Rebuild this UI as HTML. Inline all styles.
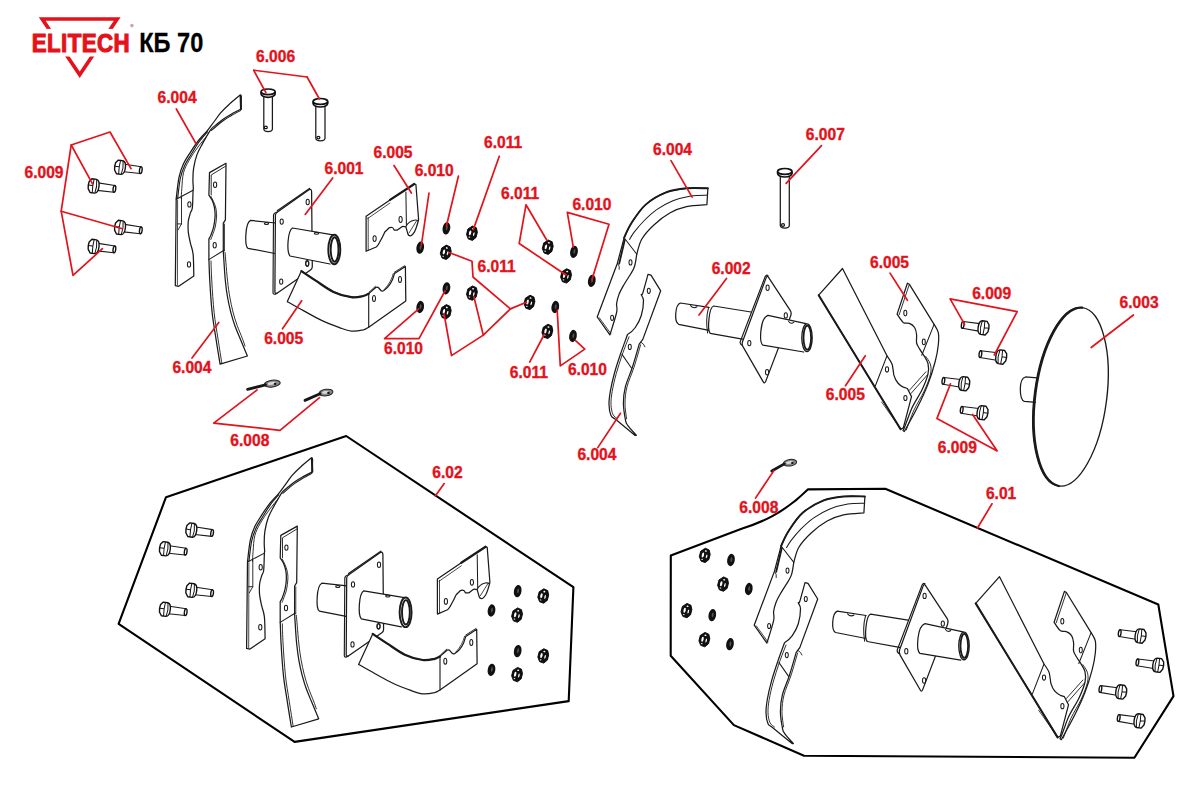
<!DOCTYPE html><html><head><meta charset="utf-8"><style>
html,body{margin:0;padding:0;background:#fff;}
svg{display:block;}
.lb{font-family:"Liberation Sans",sans-serif;font-weight:bold;font-size:15.6px;fill:#e3121b;stroke:#e3121b;stroke-width:0.35px;}
</style></head><body>
<svg width="1177" height="802" viewBox="0 0 1177 802">
<defs>
<g id="bolt">
 <path d="M4,-3.7 L20.8,-3.4 L20.8,3.4 L4,3.9" fill="#fff" stroke="#1a1a1a" stroke-width="1.1" stroke-linejoin="round"/>
 <ellipse cx="20.8" cy="0" rx="1.3" ry="3.4" fill="#fff" stroke="#111" stroke-width="1.4"/>
 <path d="M-2.8,-6.9 L1.8,-6.9 Q5.2,-6.4 5.2,0 Q5.2,6.4 1.8,6.9 L-2.8,6.9 L-5.2,3.4 L-5.6,-0.3 L-5.2,-3.8 Z" fill="#fff" stroke="#111" stroke-width="1.4" stroke-linejoin="round"/>
 <path d="M-0.6,-6.8 Q-1.4,0 -0.6,6.8 M-5.5,-0.3 L-1.1,-0.3 M2,-6.6 Q3.6,0 2,6.6" fill="none" stroke="#111" stroke-width="1"/>
</g>
<g id="nut">
 <path d="M-1.2,-7 L3,-6.2 L5,-2.2 L5,3.2 L2.2,7 L-2.2,6.6 L-5,2.6 L-5,-3 Z" fill="#111" stroke="#000" stroke-width="0.8" stroke-linejoin="round"/>
 <ellipse cx="-1.9" cy="0.2" rx="1.1" ry="2.5" fill="#fff"/>
 <ellipse cx="2" cy="0.6" rx="0.7" ry="2" fill="#fff"/>
 <ellipse cx="0" cy="-4.4" rx="1" ry="0.8" fill="#fff"/>
 <ellipse cx="-1.6" cy="4.6" rx="0.9" ry="0.6" fill="#ddd"/>
</g>
<g id="wash">
 <ellipse cx="0" cy="0" rx="3.8" ry="6.2" fill="#111" transform="rotate(10)"/>
 <ellipse cx="0.3" cy="-0.5" rx="0.9" ry="2.4" fill="#555" transform="rotate(10)"/>
</g>
</defs>
<rect width="1177" height="802" fill="#fff"/>

<path d="M38.8,17.2 L120.6,17.2 L79.7,78 Z M45.6,20.8 L113.8,20.8 L79.7,71.4 Z" fill="#e3121b" fill-rule="evenodd"/>
<rect x="28" y="28.9" width="104" height="27.6" fill="#fff"/>
<text x="31.7" y="52.4" transform="translate(31.7 0) scale(0.84 1) translate(-31.7 0)" style="font-family:'Liberation Sans',sans-serif;font-weight:bold;font-size:26.6px;fill:#e3121b;stroke:#e3121b;stroke-width:1.1px;letter-spacing:0.5px">ELITECH</text>
<circle cx="131.9" cy="25.6" r="1.8" fill="#d3a3aa"/>
<text x="139.2" y="52.2" transform="translate(139.2 0) scale(0.83 1) translate(-139.2 0)" style="font-family:'Liberation Sans',sans-serif;font-weight:bold;font-size:28.4px;fill:#000;stroke:#000;stroke-width:0.3px">КБ 70</text>
<polygon points="346.2,436.0 166.0,497.2 118.6,623.8 294.6,741.9 568.7,701.1 573.4,587.2" fill="none" stroke="#000" stroke-width="2.1" stroke-linejoin="round" stroke-linecap="round"/>
<path d="M670.8,555.6 L741.6,528.7 C760,523 783,514 807.8,489.4 L885.3,488.8 L1158.3,604.5 L1173.5,696.1 L1134.4,757.8 L804,755.7 L733.9,725.1 L670.7,655.8 Z" fill="none" stroke="#000" stroke-width="2.1" stroke-linejoin="round" stroke-linecap="round"/>
<path d="M1037,377.8 L1025.5,377 C1021.5,378 1020.3,382 1020.3,389 C1020.3,396 1021.5,400.5 1024.4,401.3 L1036,402.4" fill="#fff" stroke="#1a1a1a" stroke-width="1.25"/>
<ellipse cx="1070.5" cy="396.8" rx="36.2" ry="90.0" fill="none" stroke="#1a1a1a" stroke-width="1.36" transform="rotate(7.5 1070.5 396.8)"/>
<path d="M1082.2,307.6 A36.2,90.0 7.5 0 0 1058.8,486.0" fill="none" stroke="#1a1a1a" stroke-width="2.26" stroke-linejoin="round" stroke-linecap="round"/>
<g id="LG">
<g transform="translate(120.2 167.3) rotate(8)"><use href="#bolt"/></g>
<g transform="translate(93.8 186) rotate(8)"><use href="#bolt"/></g>
<g transform="translate(120.2 227.5) rotate(8)"><use href="#bolt"/></g>
<g transform="translate(93.8 246.5) rotate(8)"><use href="#bolt"/></g>
<path d="M240.2,95.0 C238.4,96.5 232.6,101.2 229.3,104.2 C226.0,107.2 223.2,109.9 220.6,112.9 C218.0,116.0 215.7,119.6 213.5,122.5 C211.3,125.4 210.0,127.5 207.5,130.5 C205.0,133.5 201.4,136.8 198.5,140.5 C195.6,144.2 192.7,148.7 190.2,152.6 C187.7,156.5 185.4,159.7 183.5,163.8 C181.6,167.9 180.2,171.5 179.0,177.3 C177.8,183.1 176.7,195.1 176.2,198.6 L175.3,285.6 L178.7,286.3 L193.8,276 C193.7,272.4 193.7,259.6 193.1,254.1 C192.5,248.6 191.2,246.8 190.4,243.1 C189.6,239.4 188.7,235.8 188.3,232.1 C188.0,228.4 188.0,224.4 188.3,221.2 C188.7,218.0 189.7,215.2 190.4,212.9 C191.1,210.6 192.0,211.2 192.4,207.4 C192.8,203.6 192.9,193.4 193.1,190.3 C193.3,187.2 193.3,189.1 193.4,188.8 C193.3,187.3 192.9,183.4 192.9,180.0 C192.9,176.6 192.9,172.5 193.6,168.3 C194.3,164.1 195.4,159.0 196.9,154.9 C198.4,150.8 200.8,146.8 202.5,143.6 C204.2,140.4 205.6,138.2 207.0,135.8 C208.4,133.4 209.6,131.0 211.2,129.1 C212.8,127.2 214.8,125.8 216.8,124.2 C218.8,122.6 220.7,120.9 223.1,119.2 C225.5,117.5 228.2,115.9 231.2,114.2 C234.1,112.5 239.2,110.0 240.8,109.2 L241.3,96.5 Z" fill="#fff" stroke="#1a1a1a" stroke-width="1.24" stroke-linejoin="round" stroke-linecap="round"/>
<path d="M207.5,131.8 C206.1,133.5 201.7,138.3 199.0,142.0 C196.3,145.7 193.8,150.2 191.4,154.0 C189.1,157.8 186.7,161.0 184.9,165.0 C183.1,169.0 181.6,172.4 180.4,178.0 C179.2,183.6 178.1,195.2 177.6,198.6" fill="none" stroke="#1a1a1a" stroke-width="1.13" stroke-linejoin="round" stroke-linecap="round"/>
<path d="M240.6,110.6 C239.1,111.4 234.3,113.8 231.5,115.5 C228.7,117.2 225.9,118.8 223.5,120.5 C221.1,122.2 219.2,123.8 217.2,125.5 C215.2,127.2 212.4,129.7 211.5,130.5" fill="none" stroke="#1a1a1a" stroke-width="1.02" stroke-linejoin="round" stroke-linecap="round"/>
<path d="M240.6,95.5 L241,109" fill="none" stroke="#1a1a1a" stroke-width="2.03" stroke-linejoin="round" stroke-linecap="round"/>
<path d="M207.0,135.8 C205.5,137.7 201.0,142.9 198.0,147.0 C195.0,151.1 191.4,156.2 189.0,160.5 C186.6,164.8 184.7,168.1 183.5,172.8 C182.3,177.5 182.2,184.2 181.8,188.5 C181.4,192.8 181.3,196.9 181.2,198.6" fill="none" stroke="#1a1a1a" stroke-width="0.9" stroke-linejoin="round" stroke-linecap="round"/>
<path d="M176.2,199.2 L193.1,190.3" fill="none" stroke="#1a1a1a" stroke-width="1.02" stroke-linejoin="round" stroke-linecap="round"/>
<path d="M177.6,200 L177.4,285" fill="none" stroke="#1a1a1a" stroke-width="0.79" stroke-linejoin="round" stroke-linecap="round"/>
<path d="M181.5,197 L181.5,224 M177.3,223.9 L181.5,223.9 L178,230" fill="none" stroke="#1a1a1a" stroke-width="0.9" stroke-linejoin="round" stroke-linecap="round"/>
<ellipse cx="189.4" cy="204.4" rx="1.6" ry="2.7" fill="none" stroke="#1a1a1a" stroke-width="1.02"/>
<ellipse cx="189" cy="264.4" rx="1.6" ry="2.7" fill="none" stroke="#1a1a1a" stroke-width="1.02"/>
<path d="M209.5,172.6 L226,163.3 L225.4,219.8 L223.3,223.2 L223.3,251.3 C223.4,253.1 223.7,257.3 224.0,262.3 C224.3,267.3 224.8,275.4 225.4,281.2 C226.0,287.0 226.6,291.8 227.5,297.0 C228.4,302.2 229.6,307.5 230.8,312.3 C232.1,317.1 233.4,321.6 235.0,326.0 C236.6,330.4 238.1,333.8 240.2,338.8 C242.3,343.8 246.2,353.1 247.4,356.0 L220.1,364.2 C219.4,360.0 217.3,347.4 216.0,338.8 C214.7,330.2 213.1,321.9 212.1,312.3 C211.1,302.7 210.3,290.0 209.8,281.2 C209.3,272.4 209.1,263.2 208.9,259.6 L208.9,239 C209.2,238.3 210.2,237.0 211.0,234.9 C211.8,232.8 213.0,229.8 213.7,226.6 C214.4,223.4 215.0,218.9 215.1,215.7 C215.2,212.5 214.9,209.9 214.4,207.4 C213.9,204.9 213.2,202.7 212.3,200.6 C211.4,198.5 209.5,196.0 208.9,195.1 Z" fill="#fff" stroke="#1a1a1a" stroke-width="1.24" stroke-linejoin="round" stroke-linecap="round"/>
<path d="M211.0,196.5 C211.4,197.3 212.7,199.6 213.5,201.5 C214.3,203.4 215.3,205.6 215.8,208.0 C216.3,210.4 216.7,212.8 216.6,216.0 C216.5,219.2 215.9,223.8 215.2,227.0 C214.5,230.2 213.2,232.9 212.5,235.0 C211.8,237.1 211.1,238.8 210.8,239.5" fill="none" stroke="#1a1a1a" stroke-width="0.9" stroke-linejoin="round" stroke-linecap="round"/>
<path d="M211.0,261.0 C211.1,264.4 211.3,272.6 211.8,281.2 C212.3,289.8 213.1,302.7 214.1,312.3 C215.1,321.9 216.7,330.3 218.0,338.8 C219.3,347.3 221.2,359.2 221.8,363.3" fill="none" stroke="#1a1a1a" stroke-width="0.9" stroke-linejoin="round" stroke-linecap="round"/>
<path d="M225.0,252.5 C225.2,254.1 225.5,257.5 225.9,262.3 C226.3,267.1 226.9,275.4 227.6,281.2 C228.2,287.0 228.9,291.9 229.8,297.0 C230.7,302.1 231.8,307.2 233.0,312.0 C234.2,316.8 235.6,321.1 237.2,325.5 C238.8,329.9 241.0,334.9 242.3,338.3 C243.6,341.7 244.6,344.7 245.0,346.0" fill="none" stroke="#1a1a1a" stroke-width="0.9" stroke-linejoin="round" stroke-linecap="round"/>
<path d="M224.5,224 L224.5,251" fill="none" stroke="#1a1a1a" stroke-width="0.79" stroke-linejoin="round" stroke-linecap="round"/>
<path d="M208.9,259.6 L224,250.2" fill="none" stroke="#1a1a1a" stroke-width="1.02" stroke-linejoin="round" stroke-linecap="round"/>
<path d="M211.2,195 L211.2,175 L225.6,166.2" fill="none" stroke="#1a1a1a" stroke-width="0.9" stroke-linejoin="round" stroke-linecap="round"/>
<ellipse cx="215.1" cy="184.8" rx="1.6" ry="2.7" fill="none" stroke="#1a1a1a" stroke-width="1.02"/>
<ellipse cx="214.7" cy="245.2" rx="1.6" ry="2.7" fill="none" stroke="#1a1a1a" stroke-width="1.02"/>
<path d="M275.7,223 L250.5,220.4 C245,223 244.5,246 248,248.3 L274.9,253.5" fill="#fff" stroke="#1a1a1a" stroke-width="1.24" stroke-linejoin="round" stroke-linecap="round"/>
<ellipse cx="266.5" cy="223.6" rx="2.2" ry="1" fill="none" stroke="#1a1a1a" stroke-width="1.02"/>
<path d="M277.5,212 Q275.7,212.9 275.4,215 L274.9,292 Q275,294 277,293.2 L310.5,270 Q312.3,268.8 312.3,266.5 L311.6,191.5 Q311.3,188.5 309,189.8 Z" fill="#fff" stroke="#1a1a1a" stroke-width="1.24" stroke-linejoin="round" stroke-linecap="round"/>
<path d="M277.2,210.7 L309.5,188.4" fill="none" stroke="#1a1a1a" stroke-width="1.24" stroke-linejoin="round" stroke-linecap="round"/>
<path d="M277.5,212 Q274,212.5 273.5,215 L273,293 Q273.5,295.5 277,293.2" fill="none" stroke="#1a1a1a" stroke-width="1.13" stroke-linejoin="round" stroke-linecap="round"/>
<ellipse cx="281.7" cy="221.6" rx="1.6" ry="2.7" fill="none" stroke="#1a1a1a" stroke-width="1.02"/>
<ellipse cx="307.7" cy="202" rx="1.6" ry="2.7" fill="none" stroke="#1a1a1a" stroke-width="1.02"/>
<ellipse cx="307.2" cy="263.3" rx="1.6" ry="2.7" fill="none" stroke="#1a1a1a" stroke-width="1.02"/>
<ellipse cx="281.2" cy="281.6" rx="1.6" ry="2.7" fill="none" stroke="#1a1a1a" stroke-width="1.02"/>
<path d="M333,234.8 L292.5,228 C287.5,231 286.5,252 290,256 L330,264" fill="#fff" stroke="#1a1a1a" stroke-width="1.24" stroke-linejoin="round" stroke-linecap="round"/>
<ellipse cx="334.3" cy="249.5" rx="6" ry="14.8" fill="#fff" stroke="#1a1a1a" stroke-width="1.92"/>
<ellipse cx="334.6" cy="249.5" rx="3.9" ry="12.2" fill="none" stroke="#1a1a1a" stroke-width="1.92"/>
<ellipse cx="316.5" cy="233.3" rx="2.2" ry="1" fill="none" stroke="#1a1a1a" stroke-width="1.02"/>
<ellipse cx="307.3" cy="263.8" rx="1.5" ry="2.6" fill="none" stroke="#1a1a1a" stroke-width="1.02"/>
<path d="M366.1,216.3 L390,199.9 L414.3,184 L415.9,184.5 L418.6,219.5 C417,226 415.5,230 414.3,232.2 C412.5,235 411,236 410.1,235.9 C409,235.8 408.3,235 408,234.3 L405.9,226.9 C403,226 402.5,226.2 401.6,226.9 L397.4,230.1 L394.2,230.1 C393.5,228.5 393,227.6 392.1,227.5 C390.5,227.3 389.5,227.5 388.9,228 C386.5,230.5 385.5,231 384.7,232.2 C383,236 381.5,239 380.4,240.7 C379,243.5 377.5,246 376.2,247 L366.1,251.3 Z" fill="#fff" stroke="#1a1a1a" stroke-width="1.24" stroke-linejoin="round" stroke-linecap="round"/>
<path d="M390,199.9 L414.3,184" fill="none" stroke="#1a1a1a" stroke-width="2.26" stroke-linejoin="round" stroke-linecap="round"/>
<path d="M367.6,218.6 L390,203" fill="none" stroke="#1a1a1a" stroke-width="0.79" stroke-linejoin="round" stroke-linecap="round"/>
<path d="M368.2,217.5 L368.2,250.3" fill="none" stroke="#1a1a1a" stroke-width="0.79" stroke-linejoin="round" stroke-linecap="round"/>
<path d="M405.9,192 L406.4,225" fill="none" stroke="#1a1a1a" stroke-width="1.02" stroke-linejoin="round" stroke-linecap="round"/>
<path d="M405.9,226.5 C408,222.5 411,220.8 414,220.2 C416,219.9 417.5,220.2 418.3,221" fill="none" stroke="#1a1a1a" stroke-width="1.02" stroke-linejoin="round" stroke-linecap="round"/>
<path d="M409,233 C411.5,229 414,225 416.5,221" fill="none" stroke="#1a1a1a" stroke-width="0.79" stroke-linejoin="round" stroke-linecap="round"/>
<ellipse cx="374.6" cy="238.6" rx="1.6" ry="2.9" fill="none" stroke="#1a1a1a" stroke-width="1.02"/>
<ellipse cx="400.6" cy="219.5" rx="1.6" ry="2.9" fill="none" stroke="#1a1a1a" stroke-width="1.02"/>
<path d="M301.4,271.1 C303.8,272.7 310.3,277.1 315.7,280.6 C321.1,284.1 327.6,289.1 333.5,291.9 C339.4,294.7 346.4,296.5 351.4,297.2 C356.4,297.9 360.4,296.6 363.3,296.0 C366.2,295.4 367.8,294.0 368.7,293.6 L375.7,287.5 Q377.5,286.5 378.8,288 L380.9,290.5 Q382,291.5 383.5,290.8 C387,288.5 390.5,284 392.3,280.1 C393.2,278 393.8,275.5 394.5,273.6 L405.4,266.5 L405.8,301 L368.7,327.2 C367.8,327.6 366.2,329.2 363.3,329.9 C360.4,330.5 355.4,331.5 351.4,331.1 C347.4,330.7 344.5,329.4 339.5,327.6 C334.5,325.8 327.6,323.2 321.6,320.4 C315.7,317.6 309.5,314.0 303.8,310.9 C298.1,307.8 290.1,303.2 287.3,301.6 Z" fill="#fff" stroke="#1a1a1a" stroke-width="1.24" stroke-linejoin="round" stroke-linecap="round"/>
<path d="M368.7,293.6 L368.7,327.2" fill="none" stroke="#1a1a1a" stroke-width="1.13" stroke-linejoin="round" stroke-linecap="round"/>
<path d="M301.4,271.1 C303.8,272.7 310.3,277.1 315.7,280.6 C321.1,284.1 327.6,289.1 333.5,291.9 C339.4,294.7 346.4,296.5 351.4,297.2 C356.4,297.9 360.4,296.6 363.3,296.0 C366.2,295.4 367.8,294.0 368.7,293.6" fill="none" stroke="#1a1a1a" stroke-width="2.26" stroke-linejoin="round" stroke-linecap="round"/>
<path d="M369.3,292 L375.5,286.3 M394.3,272.3 L404.6,265.7" fill="none" stroke="#1a1a1a" stroke-width="0.9" stroke-linejoin="round" stroke-linecap="round"/>
<path d="M393.3,273.5 C392,279 389,284.5 384.4,289.4" fill="none" stroke="#1a1a1a" stroke-width="0.79" stroke-linejoin="round" stroke-linecap="round"/>
<ellipse cx="374" cy="298.4" rx="1.5" ry="3" fill="none" stroke="#1a1a1a" stroke-width="1.02"/>
<ellipse cx="400" cy="279.6" rx="1.5" ry="3" fill="none" stroke="#1a1a1a" stroke-width="1.02"/>
<use href="#wash" x="446.4" y="228.4"/>
<use href="#wash" x="420.2" y="247.7"/>
<use href="#wash" x="446.4" y="288.3"/>
<use href="#wash" x="420.2" y="307"/>
<use href="#nut" transform="translate(472 233.1) rotate(14)"/>
<use href="#nut" transform="translate(445.8 252.2) rotate(14)"/>
<use href="#nut" transform="translate(472 293) rotate(14)"/>
<use href="#nut" transform="translate(445.8 311.7) rotate(14)"/>
</g>
<g id="RG">
<use href="#wash" x="574" y="251.8"/>
<use href="#wash" x="591.8" y="280.8"/>
<use href="#wash" x="555.3" y="307"/>
<use href="#wash" x="573" y="336"/>
<use href="#nut" transform="translate(547.8 247.1) rotate(14)"/>
<use href="#nut" transform="translate(566.1 275.8) rotate(14)"/>
<use href="#nut" transform="translate(529.5 302.3) rotate(14)"/>
<use href="#nut" transform="translate(547.4 331.3) rotate(14)"/>
<g transform="translate(-157 -308.2)">
<path d="M864.9,496.5 C861.3,496.5 850.5,495.8 843.5,496.5 C836.5,497.2 829.9,497.9 823.1,500.6 C816.3,503.3 808.5,507.7 802.7,512.8 C796.9,517.9 792.1,525.7 788.5,531.2 C784.9,536.7 782.3,543.5 781.1,546.0 L774.4,571.4 L754.2,625.2 L766.9,643.1 C768.0,639.4 772.5,625.9 773.6,620.7 C774.7,615.5 773.2,614.7 773.6,611.7 C774.0,608.7 774.8,605.8 775.9,602.8 C777.0,599.8 778.4,597.3 780.4,593.8 C782.4,590.3 785.9,585.1 787.8,581.9 C789.7,578.7 790.6,577.6 791.6,574.4 C792.6,571.1 793.4,564.4 793.8,562.4 C794.6,559.9 795.9,552.4 798.7,547.5 C801.6,542.6 806.1,537.6 810.9,533.2 C815.6,528.8 821.8,524.0 827.2,521.0 C832.6,518.0 837.4,516.3 843.5,514.9 C849.6,513.5 860.5,513.1 863.9,512.8 Z" fill="#fff" stroke="#1a1a1a" stroke-width="1.24" stroke-linejoin="round" stroke-linecap="round"/>
<path d="M864.6,503.3 C861.8,503.4 853.6,503.2 847.8,504.1 C842.0,505.1 835.6,506.7 829.9,509.0 C824.2,511.3 818.6,514.5 813.7,517.9 C808.9,521.3 804.6,525.4 800.8,529.2 C797.0,533.0 793.4,537.5 791.0,540.6 C788.6,543.7 787.3,546.4 786.6,547.6" fill="none" stroke="#1a1a1a" stroke-width="1.02" stroke-linejoin="round" stroke-linecap="round"/>
<path d="M864.9,496.5 C861.3,496.5 850.5,495.8 843.5,496.5 C836.5,497.2 829.9,497.9 823.1,500.6 C816.3,503.3 808.5,507.7 802.7,512.8 C796.9,517.9 792.1,525.7 788.5,531.2 C784.9,536.7 782.3,543.5 781.1,546.0" fill="none" stroke="#1a1a1a" stroke-width="1.92" stroke-linejoin="round" stroke-linecap="round"/>
<path d="M781.8,548 L776.2,571.8" fill="none" stroke="#1a1a1a" stroke-width="1.81" stroke-linejoin="round" stroke-linecap="round"/>
<path d="M781.1,546 L793.8,562.4" fill="none" stroke="#1a1a1a" stroke-width="1.02" stroke-linejoin="round" stroke-linecap="round"/>
<path d="M756.2,625.8 L768,642" fill="none" stroke="#1a1a1a" stroke-width="0.79" stroke-linejoin="round" stroke-linecap="round"/>
<path d="M774.6,571.4 Q777,574.5 776.3,577.5" fill="none" stroke="#1a1a1a" stroke-width="0.9" stroke-linejoin="round" stroke-linecap="round"/>
<ellipse cx="787.5" cy="570.6" rx="1.5" ry="2.6" fill="none" stroke="#1a1a1a" stroke-width="1.02"/>
<ellipse cx="769.1" cy="626" rx="1.5" ry="2.6" fill="none" stroke="#1a1a1a" stroke-width="1.02"/>
<path d="M805,582.6 L808,583.3 L817.7,599 L799.8,647.6 L796.2,652.4 C795.1,656.3 791.6,668.6 789.3,675.7 C787.0,682.8 783.9,689.0 782.4,694.9 C780.9,700.8 780.4,705.9 780.4,711.4 C780.4,716.9 781.7,724.1 782.4,727.8 C783.1,731.4 782.7,730.7 784.5,733.3 C786.3,735.9 791.9,741.9 793.4,743.6 L792.1,743.6 C788.9,741.0 776.8,731.1 772.8,727.8 C768.8,724.5 769.1,726.2 768.0,723.7 C766.9,721.2 766.1,716.8 766.0,712.7 C765.9,708.6 766.5,704.2 767.4,699.0 C768.3,693.8 769.8,687.4 771.5,681.2 C773.2,675.0 775.4,668.4 777.6,662.0 C779.8,655.6 783.4,645.9 784.5,642.7 C786.0,641.9 790.0,638.9 792.3,635.7 C794.5,632.5 796.9,628.2 798.3,623.7 C799.7,619.2 800.5,612.3 800.5,608.8 C800.5,605.3 798.4,604.0 798.3,602.8 C798.2,601.5 798.7,604.7 799.8,601.3 C800.9,597.9 804.1,585.7 805.0,582.6 Z" fill="#fff" stroke="#1a1a1a" stroke-width="1.24" stroke-linejoin="round" stroke-linecap="round"/>
<path d="M786.0,645.0 C784.9,648.0 781.3,656.8 779.2,663.0 C777.1,669.2 774.9,675.9 773.2,682.0 C771.5,688.1 770.1,694.4 769.2,699.5 C768.3,704.6 767.9,708.8 768.0,712.7 C768.1,716.6 768.9,720.3 770.0,722.7 C771.1,725.1 773.8,726.3 774.5,727.0" fill="none" stroke="#1a1a1a" stroke-width="0.9" stroke-linejoin="round" stroke-linecap="round"/>
<path d="M797.6,653.0 C796.5,656.8 793.1,669.0 790.8,676.0 C788.5,683.0 785.5,689.1 784.0,695.0 C782.5,700.9 782.1,706.1 782.0,711.4 C781.9,716.7 783.3,724.4 783.6,727.0" fill="none" stroke="#1a1a1a" stroke-width="0.9" stroke-linejoin="round" stroke-linecap="round"/>
<path d="M779,662.6 L788.6,676.4" fill="none" stroke="#1a1a1a" stroke-width="1.02" stroke-linejoin="round" stroke-linecap="round"/>
<path d="M798.3,650.6 Q801,652 802,655" fill="none" stroke="#1a1a1a" stroke-width="0.9" stroke-linejoin="round" stroke-linecap="round"/>
<ellipse cx="805.8" cy="599" rx="1.5" ry="2.6" fill="none" stroke="#1a1a1a" stroke-width="1.02"/>
<ellipse cx="786.8" cy="655.1" rx="1.5" ry="2.6" fill="none" stroke="#1a1a1a" stroke-width="1.02"/>
</g>
<path d="M709.1,307.3 L680.3,303 C675,305 674,322 678.6,324.3 L709.1,330.3" fill="#fff" stroke="#1a1a1a" stroke-width="1.24" stroke-linejoin="round" stroke-linecap="round"/>
<path d="M690.5,305.6 Q693.5,309 697,306.8" fill="none" stroke="#1a1a1a" stroke-width="1.02" stroke-linejoin="round" stroke-linecap="round"/>
<path d="M751,312 L713.6,306 C709,307 707,330 710.2,333.3 L742.5,339.2" fill="#fff" stroke="#1a1a1a" stroke-width="1.24" stroke-linejoin="round" stroke-linecap="round"/>
<path d="M708.5,307.8 C706.5,315 706.5,326 707.6,333" fill="none" stroke="#1a1a1a" stroke-width="1.02" stroke-linejoin="round" stroke-linecap="round"/>
<path d="M766.1,277.9 Q767.1,275.1 768.7,277.6 L790.2,310.4 Q791.8,312.9 790.7,315.7 L765.7,381.4 Q764.6,384.2 763.1,381.6 L743.1,346.9 Q741.6,344.3 742.6,341.5 Z" fill="#fff" stroke="#1a1a1a" stroke-width="1.24" stroke-linejoin="round" stroke-linecap="round"/>
<path d="M768,275.5 Q766.3,274.6 765.2,276.5 L740.3,341.5 Q739.6,343.8 741.8,345.2" fill="none" stroke="#1a1a1a" stroke-width="1.13" stroke-linejoin="round" stroke-linecap="round"/>
<ellipse cx="767.6" cy="287.7" rx="1.6" ry="2.7" fill="none" stroke="#1a1a1a" stroke-width="1.02"/>
<ellipse cx="749.3" cy="343.1" rx="1.6" ry="2.7" fill="none" stroke="#1a1a1a" stroke-width="1.02"/>
<ellipse cx="767.1" cy="372.3" rx="1.6" ry="2.7" fill="none" stroke="#1a1a1a" stroke-width="1.02"/>
<ellipse cx="785.8" cy="315.4" rx="1.6" ry="2.7" fill="none" stroke="#1a1a1a" stroke-width="1.02"/>
<path d="M806,323.6 L768,315.4 C760,318 759,342 762.9,345.2 L803.7,352" fill="#fff" stroke="#1a1a1a" stroke-width="1.24" stroke-linejoin="round" stroke-linecap="round"/>
<ellipse cx="807" cy="337.7" rx="5.2" ry="13.8" fill="#fff" stroke="#1a1a1a" stroke-width="1.36"/>
<ellipse cx="807.3" cy="337.7" rx="3.8" ry="12" fill="none" stroke="#1a1a1a" stroke-width="1.81"/>
<path d="M788.5,321.3 Q791,324.5 793.8,322.3" fill="none" stroke="#1a1a1a" stroke-width="1.02" stroke-linejoin="round" stroke-linecap="round"/>
<path d="M842.5,268.5 L887,355.8 C890,360 892,363 892.4,365.3 C893,369 893.5,372 893.8,374.9 C895,379 896,381 897.9,383 C900,385.5 902,386.5 903.3,387.1 L907.4,388.5 L911.5,396.6 L903.3,427.9 L900.6,429.2 L818.7,295.2 Z" fill="#fff" stroke="#1a1a1a" stroke-width="1.24" stroke-linejoin="round" stroke-linecap="round"/>
<path d="M818.7,295.2 L900.6,429.2" fill="none" stroke="#1a1a1a" stroke-width="2.03" stroke-linejoin="round" stroke-linecap="round"/>
<path d="M887,355.8 L875.4,385.7" fill="none" stroke="#1a1a1a" stroke-width="1.02" stroke-linejoin="round" stroke-linecap="round"/>
<path d="M881.6,402 L900,428" fill="none" stroke="#1a1a1a" stroke-width="0.79" stroke-linejoin="round" stroke-linecap="round"/>
<ellipse cx="887" cy="369.4" rx="1.6" ry="2.6" fill="none" stroke="#1a1a1a" stroke-width="1.02"/>
<ellipse cx="905.4" cy="398" rx="1.6" ry="2.6" fill="none" stroke="#1a1a1a" stroke-width="1.02"/>
<path d="M907.4,283.2 L909.4,284.3 L934.1,324.4 C934.8,325.8 937.6,329.3 938.3,332.7 C939.0,336.1 938.8,340.2 938.3,345.0 C937.8,349.8 936.9,355.0 935.2,361.5 C933.5,368.0 930.9,376.6 928.0,384.1 C925.1,391.7 921.7,398.9 917.7,406.8 C913.8,414.7 906.5,427.4 904.3,431.5 L903,430.5 C905.5,426.1 908.6,415.4 911.5,408.9 C914.4,402.4 919.0,396.1 921.8,390.3 C924.5,384.5 927.0,378.3 928.0,373.8 C929.0,369.3 928.7,366.6 928.0,363.5 C927.3,360.4 924.5,356.7 923.8,355.3 C923.1,354.3 920.9,351.2 919.7,349.1 C918.5,347.1 917.1,345.4 916.6,343.0 C916.1,340.6 916.9,337.3 916.6,334.7 C916.3,332.1 915.8,329.4 914.6,327.5 C913.4,325.6 911.3,324.2 909.4,323.4 C907.5,322.5 905.2,323.9 903.2,322.4 C901.2,320.8 898.1,315.5 897.1,314.1 Z" fill="#fff" stroke="#1a1a1a" stroke-width="1.24" stroke-linejoin="round" stroke-linecap="round"/>
<path d="M925.8,356.5 C926.5,357.8 929.5,361.1 930.3,364.0 C931.1,366.9 931.5,369.5 930.5,374.0 C929.5,378.5 927.0,385.0 924.2,391.0 C921.5,397.0 917.0,403.5 914.0,410.0 C911.0,416.5 907.6,426.7 906.3,430.0" fill="none" stroke="#1a1a1a" stroke-width="0.9" stroke-linejoin="round" stroke-linecap="round"/>
<path d="M909.2,284.8 L899.2,314.6" fill="none" stroke="#1a1a1a" stroke-width="0.9" stroke-linejoin="round" stroke-linecap="round"/>
<path d="M934.1,324.4 L921.8,355.3" fill="none" stroke="#1a1a1a" stroke-width="1.02" stroke-linejoin="round" stroke-linecap="round"/>
<path d="M909.4,390.3 L925.9,371.8 M911,393.5 L927.3,375" fill="none" stroke="#1a1a1a" stroke-width="0.9" stroke-linejoin="round" stroke-linecap="round"/>
<ellipse cx="905.3" cy="313.1" rx="1.5" ry="2.8" fill="none" stroke="#1a1a1a" stroke-width="1.02"/>
<ellipse cx="923.8" cy="341.9" rx="1.5" ry="2.8" fill="none" stroke="#1a1a1a" stroke-width="1.02"/>
<g transform="translate(983.3 327.8) scale(-1 1) rotate(-8)"><use href="#bolt"/></g>
<g transform="translate(1001 357) scale(-1 1) rotate(-8)"><use href="#bolt"/></g>
<g transform="translate(964 383.7) scale(-1 1) rotate(-8)"><use href="#bolt"/></g>
<g transform="translate(982.3 412.7) scale(-1 1) rotate(-8)"><use href="#bolt"/></g>
</g>
<use href="#LG" transform="translate(71.3 362.8)"/>
<use href="#RG" transform="translate(157 308.2)"/>
<path d="M263.8,93.6 L263.8,129 Q263.8,131.5 268.1,131.5 Q272.40000000000003,131.5 272.40000000000003,129 L272.40000000000003,93.6" fill="#fff" stroke="#1a1a1a" stroke-width="1.25"/>
<ellipse cx="265.8" cy="127.4" rx="1.5" ry="1.3" fill="#fff" stroke="#111" stroke-width="1.2"/>
<path d="M261.1,91.8 L261.1,94.0 A7,3.3 0 0 0 275.1,94.0 L275.1,91.8" fill="#fff" stroke="#111" stroke-width="1.7"/>
<ellipse cx="268.1" cy="91.8" rx="7" ry="2.80" fill="#fff" stroke="#111" stroke-width="1.7"/>
<path d="M315.79999999999995,103.2 L315.79999999999995,138.3 Q315.79999999999995,140.8 320.4,140.8 Q325.0,140.8 325.0,138.3 L325.0,103.2" fill="#fff" stroke="#1a1a1a" stroke-width="1.25"/>
<ellipse cx="318.4" cy="137.6" rx="1.5" ry="1.3" fill="#fff" stroke="#111" stroke-width="1.2"/>
<path d="M313.09999999999997,101.4 L313.09999999999997,103.60000000000001 A7.3,3.4 0 0 0 327.7,103.60000000000001 L327.7,101.4" fill="#fff" stroke="#111" stroke-width="1.7"/>
<ellipse cx="320.4" cy="101.4" rx="7.3" ry="2.89" fill="#fff" stroke="#111" stroke-width="1.7"/>
<path d="M780.3,173.2 L780.3,225.5 Q780.3,228.0 784.8,228.0 Q789.3,228.0 789.3,225.5 L789.3,173.2" fill="#fff" stroke="#1a1a1a" stroke-width="1.25"/>
<ellipse cx="783" cy="225" rx="1.5" ry="1.3" fill="#fff" stroke="#111" stroke-width="1.2"/>
<path d="M777.5999999999999,171.39999999999998 L777.5999999999999,173.59999999999997 A7.2,3.4 0 0 0 792.0,173.59999999999997 L792.0,171.39999999999998" fill="#fff" stroke="#111" stroke-width="1.7"/>
<ellipse cx="784.8" cy="171.39999999999998" rx="7.2" ry="2.89" fill="#fff" stroke="#111" stroke-width="1.7"/>
<ellipse cx="272.3" cy="383.6" rx="8" ry="3.4" fill="#8a8a8a" stroke="#222" stroke-width="1" transform="rotate(-8 272.3 383.6)"/>
<ellipse cx="271.8" cy="383.3" rx="4.0" ry="1.36" fill="#d8d8d8" transform="rotate(-8 272.3 383.6)"/>
<ellipse cx="275.1" cy="383.90000000000003" rx="1.3" ry="1.1" fill="#111"/>
<path d="M247.6,389.3 L265.5,384.8" stroke="#161616" stroke-width="2.8" stroke-linecap="round"/>
<ellipse cx="326" cy="392.6" rx="7" ry="3.3" fill="#8a8a8a" stroke="#222" stroke-width="1" transform="rotate(-8 326 392.6)"/>
<ellipse cx="325.5" cy="392.3" rx="3.5" ry="1.32" fill="#d8d8d8" transform="rotate(-8 326 392.6)"/>
<ellipse cx="328.45" cy="392.90000000000003" rx="1.3" ry="1.1" fill="#111"/>
<path d="M305,400.4 L320.05,393.8" stroke="#161616" stroke-width="2.8" stroke-linecap="round"/>
<ellipse cx="790" cy="462.7" rx="6.7" ry="3.3" fill="#8a8a8a" stroke="#222" stroke-width="1" transform="rotate(-8 790 462.7)"/>
<ellipse cx="789.5" cy="462.4" rx="3.35" ry="1.32" fill="#d8d8d8" transform="rotate(-8 790 462.7)"/>
<ellipse cx="792.345" cy="463.0" rx="1.3" ry="1.1" fill="#111"/>
<path d="M771.8,471 L784.305,463.9" stroke="#161616" stroke-width="2.8" stroke-linecap="round"/>
<polyline points="307.1,77.0 253.6,70.2 265.9,92.7" fill="none" stroke="#e3121b" stroke-width="1.7" stroke-linejoin="round" stroke-linecap="round"/>
<polyline points="307.1,77.0 319.4,99.0" fill="none" stroke="#e3121b" stroke-width="1.7" stroke-linejoin="round" stroke-linecap="round"/>
<polyline points="176.3,109.0 196.0,143.7" fill="none" stroke="#e3121b" stroke-width="1.7" stroke-linejoin="round" stroke-linecap="round"/>
<polyline points="131.0,168.7 110.0,132.0 71.2,145.0 61.2,211.2 73.0,275.4 102.4,248.7" fill="none" stroke="#e3121b" stroke-width="1.7" stroke-linejoin="round" stroke-linecap="round"/>
<polyline points="71.2,145.0 92.4,183.7" fill="none" stroke="#e3121b" stroke-width="1.7" stroke-linejoin="round" stroke-linecap="round"/>
<polyline points="61.2,211.2 122.4,228.7" fill="none" stroke="#e3121b" stroke-width="1.7" stroke-linejoin="round" stroke-linecap="round"/>
<polyline points="394.0,165.5 411.4,193.0" fill="none" stroke="#e3121b" stroke-width="1.7" stroke-linejoin="round" stroke-linecap="round"/>
<polyline points="332.7,178.0 305.2,214.4" fill="none" stroke="#e3121b" stroke-width="1.7" stroke-linejoin="round" stroke-linecap="round"/>
<polyline points="429.0,193.0 421.4,245.0" fill="none" stroke="#e3121b" stroke-width="1.7" stroke-linejoin="round" stroke-linecap="round"/>
<polyline points="458.4,176.2 446.4,226.0" fill="none" stroke="#e3121b" stroke-width="1.7" stroke-linejoin="round" stroke-linecap="round"/>
<polyline points="499.3,156.2 473.4,229.4" fill="none" stroke="#e3121b" stroke-width="1.7" stroke-linejoin="round" stroke-linecap="round"/>
<polyline points="547.0,240.5 526.0,204.8 519.2,243.5 566.0,275.0" fill="none" stroke="#e3121b" stroke-width="1.7" stroke-linejoin="round" stroke-linecap="round"/>
<polyline points="573.3,247.2 567.3,212.4 609.0,224.3 591.8,280.0" fill="none" stroke="#e3121b" stroke-width="1.7" stroke-linejoin="round" stroke-linecap="round"/>
<polyline points="671.0,160.6 692.1,197.1" fill="none" stroke="#e3121b" stroke-width="1.7" stroke-linejoin="round" stroke-linecap="round"/>
<polyline points="821.5,145.7 786.1,183.3" fill="none" stroke="#e3121b" stroke-width="1.7" stroke-linejoin="round" stroke-linecap="round"/>
<polyline points="726.5,278.4 699.0,315.0" fill="none" stroke="#e3121b" stroke-width="1.7" stroke-linejoin="round" stroke-linecap="round"/>
<polyline points="890.0,273.1 907.4,300.3" fill="none" stroke="#e3121b" stroke-width="1.7" stroke-linejoin="round" stroke-linecap="round"/>
<polyline points="964.6,324.4 950.1,298.9 1017.2,311.6 994.3,355.0" fill="none" stroke="#e3121b" stroke-width="1.7" stroke-linejoin="round" stroke-linecap="round"/>
<polyline points="1133.4,315.0 1091.2,347.5" fill="none" stroke="#e3121b" stroke-width="1.7" stroke-linejoin="round" stroke-linecap="round"/>
<polyline points="845.5,385.7 865.3,355.8" fill="none" stroke="#e3121b" stroke-width="1.7" stroke-linejoin="round" stroke-linecap="round"/>
<polyline points="950.5,383.8 936.9,418.6 997.2,450.9 972.6,414.4" fill="none" stroke="#e3121b" stroke-width="1.7" stroke-linejoin="round" stroke-linecap="round"/>
<polyline points="449.6,252.7 472.0,261.2 473.0,277.0 510.4,308.9 526.3,302.3" fill="none" stroke="#e3121b" stroke-width="1.7" stroke-linejoin="round" stroke-linecap="round"/>
<polyline points="510.4,308.9 483.3,335.1 473.9,296.7" fill="none" stroke="#e3121b" stroke-width="1.7" stroke-linejoin="round" stroke-linecap="round"/>
<polyline points="483.3,335.1 451.5,355.6 444.0,313.5" fill="none" stroke="#e3121b" stroke-width="1.7" stroke-linejoin="round" stroke-linecap="round"/>
<polyline points="418.7,308.9 384.5,338.6 419.0,338.6 445.0,291.0" fill="none" stroke="#e3121b" stroke-width="1.7" stroke-linejoin="round" stroke-linecap="round"/>
<polyline points="282.5,328.8 301.7,300.8" fill="none" stroke="#e3121b" stroke-width="1.7" stroke-linejoin="round" stroke-linecap="round"/>
<polyline points="192.0,358.1 218.8,322.5" fill="none" stroke="#e3121b" stroke-width="1.7" stroke-linejoin="round" stroke-linecap="round"/>
<polyline points="529.7,362.1 544.2,334.5" fill="none" stroke="#e3121b" stroke-width="1.7" stroke-linejoin="round" stroke-linecap="round"/>
<polyline points="557.2,310.0 560.3,365.9 584.8,349.1 575.6,340.6" fill="none" stroke="#e3121b" stroke-width="1.7" stroke-linejoin="round" stroke-linecap="round"/>
<polyline points="597.8,447.6 620.5,413.3" fill="none" stroke="#e3121b" stroke-width="1.7" stroke-linejoin="round" stroke-linecap="round"/>
<polyline points="257.0,390.0 213.7,423.1 280.0,430.3 319.5,397.6" fill="none" stroke="#e3121b" stroke-width="1.7" stroke-linejoin="round" stroke-linecap="round"/>
<polyline points="773.9,470.6 755.5,498.1" fill="none" stroke="#e3121b" stroke-width="1.7" stroke-linejoin="round" stroke-linecap="round"/>
<polyline points="444.2,483.6 435.3,495.9" fill="none" stroke="#e3121b" stroke-width="1.7" stroke-linejoin="round" stroke-linecap="round"/>
<polyline points="992.0,503.8 977.3,528.3" fill="none" stroke="#e3121b" stroke-width="1.7" stroke-linejoin="round" stroke-linecap="round"/>
<text x="256.1" y="62.1" class="lb">6.006</text>
<text x="157.6" y="102.8" class="lb">6.004</text>
<text x="24.5" y="178.3" class="lb">6.009</text>
<text x="373.5" y="158.3" class="lb">6.005</text>
<text x="414.7" y="175.8" class="lb">6.010</text>
<text x="484" y="148.3" class="lb">6.011</text>
<text x="324.5" y="173.6" class="lb">6.001</text>
<text x="501" y="199.4" class="lb">6.011</text>
<text x="572.4" y="209.6" class="lb">6.010</text>
<text x="653" y="155.2" class="lb">6.004</text>
<text x="805.8" y="139.6" class="lb">6.007</text>
<text x="711.7" y="273.8" class="lb">6.002</text>
<text x="870" y="267.6" class="lb">6.005</text>
<text x="972.2" y="298.5" class="lb">6.009</text>
<text x="1119.6" y="308.3" class="lb">6.003</text>
<text x="477.6" y="272.0" class="lb">6.011</text>
<text x="264.2" y="343.7" class="lb">6.005</text>
<text x="172.4" y="373.0" class="lb">6.004</text>
<text x="384" y="354.0" class="lb">6.010</text>
<text x="509.8" y="377.7" class="lb">6.011</text>
<text x="567.9" y="374.6" class="lb">6.010</text>
<text x="825.8" y="399.6" class="lb">6.005</text>
<text x="937.8" y="453.1" class="lb">6.009</text>
<text x="577.4" y="460.1" class="lb">6.004</text>
<text x="230.3" y="445.7" class="lb">6.008</text>
<text x="432.3" y="477.6" class="lb">6.02</text>
<text x="739.3" y="513.0" class="lb">6.008</text>
<text x="985.9" y="499.3" class="lb">6.01</text>
</svg></body></html>
